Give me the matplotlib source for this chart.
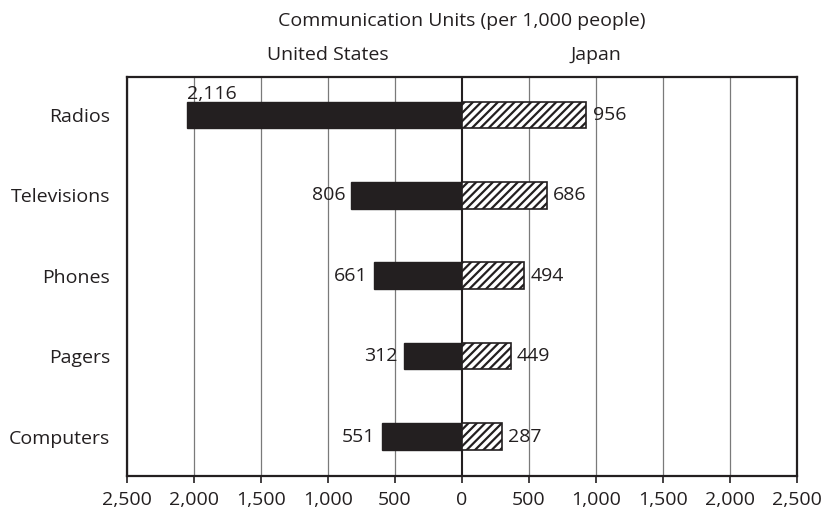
import matplotlib
matplotlib.use("Agg")
import matplotlib.pyplot as plt
import numpy as np

categories = ['Radios', 'Televisions', 'Phones', 'Pagers', 'Computers']
# bar lengths as drawn in the picture
us_values = [2050, 825, 655, 436, 600]
japan_values = [928, 635, 463, 363, 296]
# printed value labels
us_labels = ['2,116', '806', '661', '312', '551']
japan_labels = ['956', '686', '494', '449', '287']
ticks = [-2500, -2000, -1500, -1000, -500, 0, 500, 1000, 1500, 2000, 2500]

ink = '#231f20'
plt.rcParams['font.family'] = ['Open Sans', 'DejaVu Sans']
plt.rcParams['font.size'] = 14
plt.rcParams['text.color'] = ink
plt.rcParams['hatch.linewidth'] = 1.6

fig = plt.figure(figsize=(8.24, 5.12), dpi=100)
ax = fig.add_axes([0.1541, 0.0703, 0.8131, 0.7793])

y = np.arange(len(categories))
h = 0.33
ax.barh(y, [-v for v in us_values], height=h, color=ink, edgecolor=ink, linewidth=1.0, zorder=3)
ax.barh(y, japan_values, height=h, color='white', edgecolor=ink, hatch='////', linewidth=1.2, zorder=3)

# value labels
for i, (v, lab) in enumerate(zip(us_values, us_labels)):
    if i == 0:
        ax.annotate(lab, xy=(-v, i - h / 2), xytext=(0, -1), textcoords='offset points',
                    ha='left', va='bottom')
    else:
        ax.annotate(lab, xy=(-v, i), xytext=(-4.5, 0), textcoords='offset points',
                    ha='right', va='center')
for i, (v, lab) in enumerate(zip(japan_values, japan_labels)):
    ax.annotate(lab, xy=(v, i), xytext=(4.5, 0), textcoords='offset points',
                ha='left', va='center')

ax.set_xlim(-2500, 2500)
ax.set_ylim(4.49, -0.47)
ax.set_xticks(ticks)
ax.set_xticklabels(['{:,}'.format(abs(t)) for t in ticks])
ax.set_yticks(y)
ax.set_yticklabels(categories)
ax.tick_params(axis='x', direction='out', length=5, width=1.2, color=ink, pad=6, labelcolor=ink)
ax.tick_params(axis='y', length=0, pad=12, labelcolor=ink)

for t in ticks:
    if t == 0:
        ax.axvline(0, color=ink, lw=1.5, zorder=2)
    else:
        ax.axvline(t, color='#7a7a7a', lw=0.9, zorder=1)

for s in ax.spines.values():
    s.set_color(ink)
    s.set_linewidth(1.6)

tr = ax.get_xaxis_transform()
ax.text(0, 1.14, 'Communication Units (per 1,000 people)', transform=tr, ha='center', va='center')
ax.text(-1000, 1.055, 'United States', transform=tr, ha='center', va='center')
ax.text(1000, 1.055, 'Japan', transform=tr, ha='center', va='center')

fig.savefig('out.png', dpi=100)
